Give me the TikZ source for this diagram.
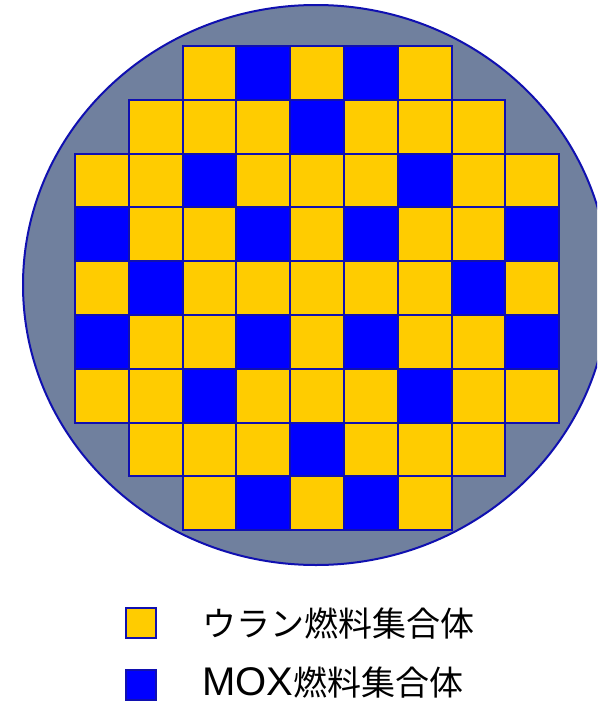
\documentclass[tikz,border=0pt]{standalone}
\usepackage{fontspec}
\newfontfamily\jpfont{Noto Sans CJK JP}
\newfontfamily\latinfont{Liberation Sans}
\usetikzlibrary{shapes.geometric}
\definecolor{coregray}{RGB}{112,128,158}
\definecolor{uyellow}{RGB}{255,204,0}
\definecolor{moxblue}{RGB}{0,0,255}
\definecolor{edgeblue}{RGB}{16,16,176}
\tikzset{
  cellbox/.style={rectangle, draw=edgeblue, line width=2pt, minimum size=53.8pt, inner sep=0pt, anchor=north west},
  ucell/.style={cellbox, fill=uyellow},
  mcell/.style={cellbox, fill=moxblue},
  legendbox/.style={rectangle, draw=edgeblue, line width=2pt, minimum size=30pt, inner sep=0pt},
  legendtext/.style={anchor=base west, inner sep=0pt, text depth=0pt, font=\jpfont\fontsize{34}{40}\selectfont}
}
\begin{document}
\begin{tikzpicture}[x=1pt,y=-1pt]
\useasboundingbox (0,0) rectangle (597,704);
\clip (0,0) rectangle (597,704);
\node[ellipse, draw=edgeblue, line width=2pt, fill=coregray, minimum width=586pt, minimum height=560pt, inner sep=0pt] (core) at (316,285) {};
% rows: r/c/type (0 = uranium, 1 = MOX)
\foreach \r/\c/\t in {
 0/2/0,0/3/1,0/4/0,0/5/1,0/6/0,
 1/1/0,1/2/0,1/3/0,1/4/1,1/5/0,1/6/0,1/7/0,
 2/0/0,2/1/0,2/2/1,2/3/0,2/4/0,2/5/0,2/6/1,2/7/0,2/8/0,
 3/0/1,3/1/0,3/2/0,3/3/1,3/4/0,3/5/1,3/6/0,3/7/0,3/8/1,
 4/0/0,4/1/1,4/2/0,4/3/0,4/4/0,4/5/0,4/6/0,4/7/1,4/8/0,
 5/0/1,5/1/0,5/2/0,5/3/1,5/4/0,5/5/1,5/6/0,5/7/0,5/8/1,
 6/0/0,6/1/0,6/2/1,6/3/0,6/4/0,6/5/0,6/6/1,6/7/0,6/8/0,
 7/1/0,7/2/0,7/3/0,7/4/1,7/5/0,7/6/0,7/7/0,
 8/2/0,8/3/1,8/4/0,8/5/1,8/6/0}{
  \ifnum\t=1
    \node[mcell] (cell-\r-\c) at ({74+53.8*\c},{45+53.8*\r}) {};
  \else
    \node[ucell] (cell-\r-\c) at ({74+53.8*\c},{45+53.8*\r}) {};
  \fi
}
\node[legendbox, fill=uyellow] (keyU) at (141,623) {};
\node[legendbox, fill=moxblue] (keyM) at (141,685) {};
\node[legendtext] (textU) at (202,636) {ウラン燃料集合体};
\node[legendtext] (textM) at (202,695) {{\latinfont\fontsize{40}{44}\selectfont MOX}燃料集合体};
\end{tikzpicture}
\end{document}
